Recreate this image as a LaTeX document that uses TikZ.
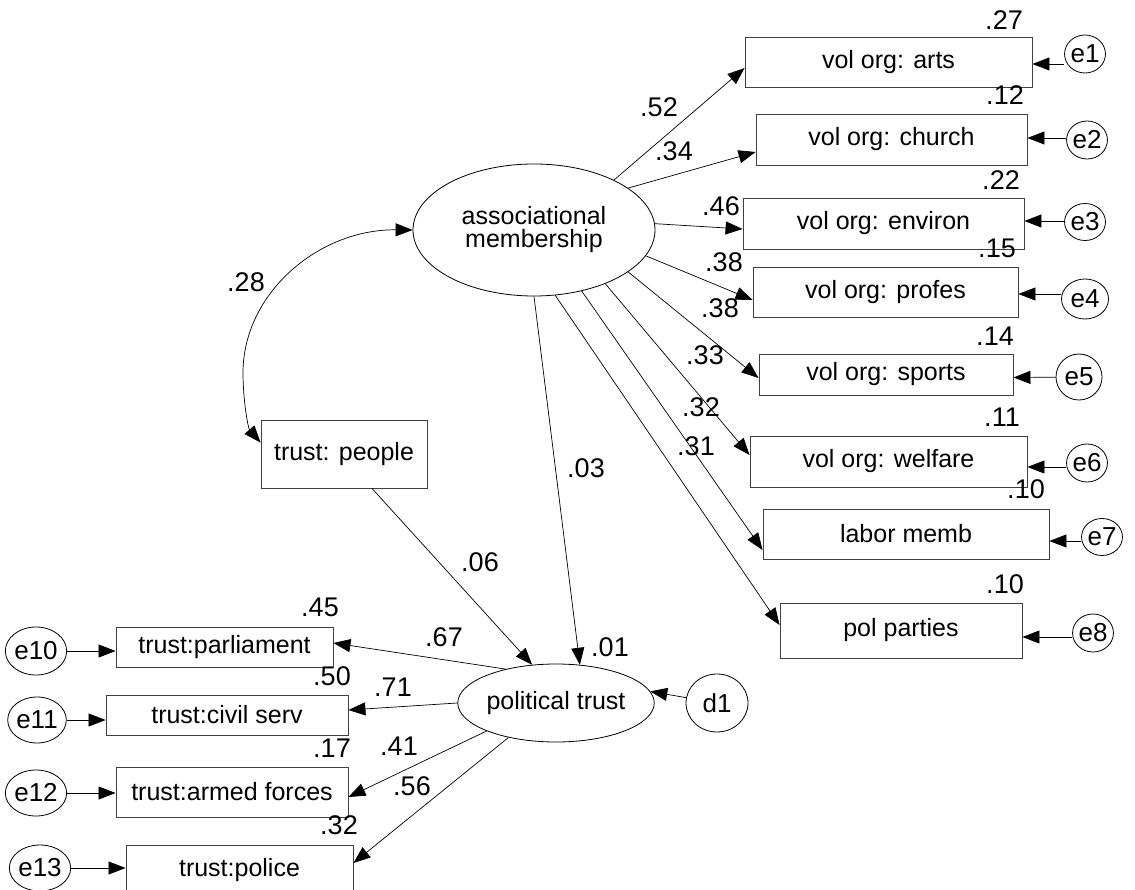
\documentclass[tikz,border=0pt]{standalone}
\usepackage{fontspec}
\setmainfont{Liberation Sans}
\usetikzlibrary{shapes.geometric,arrows.meta}
\begin{document}
\begin{tikzpicture}[x=1pt,y=-1pt,
  every node/.style={inner sep=0pt},
  obs/.style={draw=black!75,rectangle,line width=0.9pt,font=\fontsize{25}{27}\selectfont},
  lat/.style={draw,ellipse,line width=0.8pt,font=\fontsize{25}{23}\selectfont,align=center},
  err/.style={draw,ellipse,line width=0.8pt,font=\fontsize{26}{28}\selectfont},
  num/.style={font=\fontsize{27}{29}\selectfont},
  arr/.style={line width=0.7pt,-{Triangle[length=17pt,width=13pt]}},
  arrtwo/.style={line width=0.7pt,{Triangle[length=17pt,width=13pt]}-{Triangle[length=17pt,width=13pt]}}
]
\useasboundingbox (0,0) rectangle (1135,890);
\clip (0,0) rectangle (1135,890);

% latent variables
\node[lat,minimum width=242pt,minimum height=132pt] (assoc) at (534,230) {associational\\membership};
\node[lat,minimum width=168pt,minimum height=78pt] (ptrust) at (556,703) {political trust};

% right-hand indicators
\node[obs,minimum width=287pt,minimum height=50pt] (arts) at (888.5,62) {vol org: arts};
\node[obs,minimum width=271pt,minimum height=51pt] (church) at (891.5,139.5) {vol org: church};
\node[obs,minimum width=281pt,minimum height=51pt] (environ) at (883.5,223.5) {vol org: environ};
\node[obs,minimum width=265pt,minimum height=50pt] (profes) at (885.5,292) {vol org: profes};
\node[obs,minimum width=254pt,minimum height=41pt] (sports) at (886,374.5) {vol org: sports};
\node[obs,minimum width=277pt,minimum height=51pt] (welfare) at (888.5,461.5) {vol org: welfare};
\node[obs,minimum width=286pt,minimum height=50pt] (labor) at (906,534) {labor memb};
\node[obs,minimum width=242pt,minimum height=55pt] (pol) at (901,630.5) {pol parties};

% other observed
\node[obs,minimum width=166pt,minimum height=68pt] (people) at (344,454) {trust: people};
\node[obs,minimum width=217pt,minimum height=40pt] (parl) at (224.5,647) {trust:parliament};
\node[obs,minimum width=242pt,minimum height=40pt] (civil) at (227,715) {trust:civil serv};
\node[obs,minimum width=232pt,minimum height=50pt] (armed) at (232,792) {trust:armed forces};
\node[obs,minimum width=227pt,minimum height=50pt] (police) at (239.5,870) {trust:police};

% error terms
\node[err,minimum width=39pt,minimum height=38pt] (e1) at (1085,54) {e1};
\node[err,minimum width=40pt,minimum height=38pt] (e2) at (1087,140) {e2};
\node[err,minimum width=40pt,minimum height=37pt] (e3) at (1085,222) {e3};
\node[err,minimum width=47pt,minimum height=40pt] (e4) at (1085,299) {e4};
\node[err,minimum width=46pt,minimum height=46pt] (e5) at (1079,377) {e5};
\node[err,minimum width=40pt,minimum height=38pt] (e6) at (1087,463) {e6};
\node[err,minimum width=38pt,minimum height=37pt] (e7) at (1102,537) {e7};
\node[err,minimum width=38pt,minimum height=38pt] (e8) at (1093,633) {e8};
\node[err,minimum width=54pt,minimum height=48pt] (e10) at (36,651) {e10};
\node[err,minimum width=49pt,minimum height=46pt] (e11) at (37,720) {e11};
\node[err,minimum width=48pt,minimum height=46pt] (e12) at (36,793) {e12};
\node[err,minimum width=47pt,minimum height=46pt] (e13) at (40,868) {e13};
\node[err,minimum width=62pt,minimum height=58pt] (d1) at (717,703) {d1};

% loadings of associational membership
\draw[arr] (assoc.32.7) -- ([yshift=-6pt]arts.west);
\draw[arr] (assoc.24.1) -- ([yshift=-12.5pt]church.west);
\draw[arr] (assoc.3) -- ([yshift=-5.5pt]environ.west);
\draw[arr] (assoc.-13.4) -- ([yshift=-8pt]profes.west);
\draw[arr] (assoc.-24.6) -- ([yshift=-3.5pt]sports.west);
\draw[arr] (assoc.-37.8) -- ([yshift=6.5pt]welfare.west);
\draw[arr] (assoc.-52.3) -- ([yshift=-16pt]labor.west);
\draw[arr] (assoc.-72.6) -- ([yshift=5.5pt]pol.west);

% error arrows right
\draw[arr] ([yshift=-10pt]e1.west) -- ([yshift=-10pt]e1.west -| arts.east);
\draw[arr] ([yshift=2pt]e2.west) -- ([yshift=2pt]e2.west -| church.east);
\draw[arr] ([yshift=1pt]e3.west) -- ([yshift=1pt]e3.west -| environ.east);
\draw[arr] ([yshift=5pt]e4.west) -- ([yshift=5pt]e4.west -| profes.east);
\draw[arr] (e5) -- ([yshift=-3pt]sports.east);
\draw[arr] ([yshift=-4pt]e6.west) -- ([yshift=-4pt]e6.west -| welfare.east);
\draw[arr] ([yshift=-4pt]e7.west) -- ([yshift=-4pt]e7.west -| labor.east);
\draw[arr] ([yshift=-4pt]e8.west) -- ([yshift=-4pt]e8.west -| pol.east);

% covariance
\draw[arrtwo] (assoc.west) .. controls (319,229) and (243,293) .. (243,373)
  .. controls (243,400) and (248,428) .. ([yshift=-23pt]people.north west);

% structural paths
\draw[arr] ([xshift=28pt]people.south) -- (ptrust.122);
\draw[arr] (assoc.-90) -- (ptrust.58);
\draw[arr] (d1) -- (ptrust.7.7);

% loadings of political trust
\draw[arr] (ptrust.146.9) -- ([yshift=4pt]parl.east);
\draw[arr] (ptrust.180) -- ([yshift=5pt]civil.east);
\draw[arr] (ptrust.202) -- ([yshift=-5pt]armed.east);
\draw[arr] (ptrust.216.5) -- ([yshift=7pt]police.east);

% error arrows left
\draw[arr] (e10.east) -- (e10.east -| parl.west);
\draw[arr] (e11.east) -- (e11.east -| civil.west);
\draw[arr] (e12.east) -- (e12.east -| armed.west);
\draw[arr] (e13.east) -- (e13.east -| police.west);

% numbers
\node[num] (n27) at (1004,20) {.27};
\node[num] (n12) at (1005,95) {.12};
\node[num] (n22) at (1001,180) {.22};
\node[num] (n15) at (997,248) {.15};
\node[num] (n14) at (995,336) {.14};
\node[num] (n11) at (1002,417) {.11};
\node[num] (n10a) at (1026,489) {.10};
\node[num] (n10b) at (1005,584) {.10};
\node[num] (n52) at (659,107) {.52};
\node[num] (n34) at (674,151) {.34};
\node[num] (n46) at (721,206) {.46};
\node[num] (n38a) at (724,262) {.38};
\node[num] (n38b) at (720,308) {.38};
\node[num] (n33) at (705,355) {.33};
\node[num] (n32) at (701,407) {.32};
\node[num] (n31) at (696,446) {.31};
\node[num] (n28) at (246,282) {.28};
\node[num] (n03) at (586,468) {.03};
\node[num] (n06) at (480,562) {.06};
\node[num] (n01) at (610,647) {.01};
\node[num] (n67) at (444,637) {.67};
\node[num] (n45) at (320,607) {.45};
\node[num] (n50) at (332,676) {.50};
\node[num] (n71) at (393,687) {.71};
\node[num] (n17) at (332,748) {.17};
\node[num] (n41) at (399,746) {.41};
\node[num] (n56) at (412,786) {.56};
\node[num] (n32b) at (339,825) {.32};
\end{tikzpicture}
\end{document}
